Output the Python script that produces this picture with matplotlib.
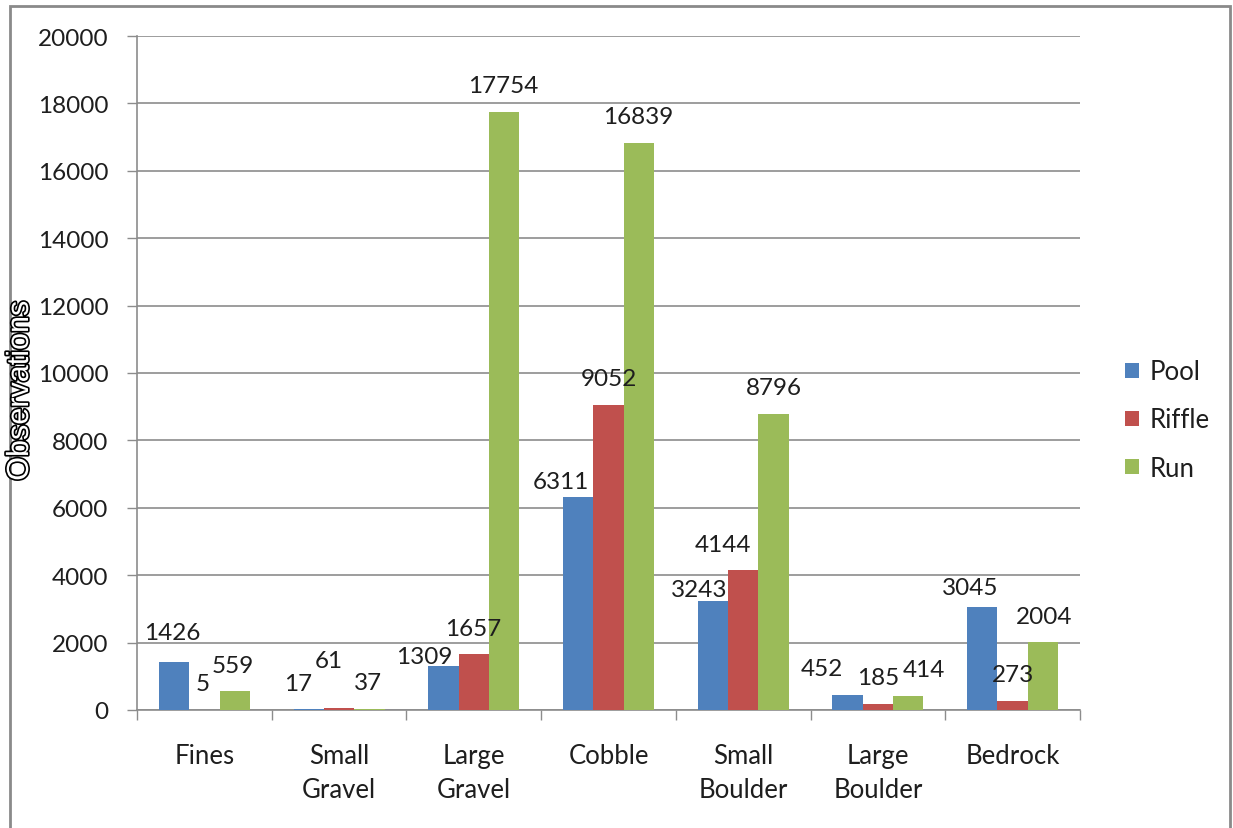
import matplotlib
matplotlib.use("Agg")
import matplotlib.pyplot as plt
import matplotlib.patheffects as pe
from matplotlib.patches import Rectangle
import numpy as np

categories = ["Fines", "Small\nGravel", "Large\nGravel", "Cobble",
              "Small\nBoulder", "Large\nBoulder", "Bedrock"]
series = ["Pool", "Riffle", "Run"]
pool = [1426, 17, 1309, 6311, 3243, 452, 3045]
riffle = [5, 61, 1657, 9052, 4144, 185, 273]
run = [559, 37, 17754, 16839, 8796, 414, 2004]
yticks = list(range(0, 20001, 2000))

colors = ["#4F81BD", "#C0504D", "#9BBB59"]

# label offsets in pixels (dx, dy) from the top centre of each bar,
# Excel nudged some of them to dodge neighbours
label_offsets = [
    [(-2, 31), (-11, 28), (-19, 11), (-17, 18), (-14, 13), (-26, 28), (-12, 22)],
    [(-2, 28), (-10, 49), (-1, 28), (0, 28), (-20, 28), (0, 28), (0, 28)],
    [(-2, 28), (-1, 28), (-1, 28), (-1, 28), (0, 28), (16, 29), (1, 28)],
]

W, H = 1233, 829
fig = plt.figure(figsize=(W / 100, H / 100), dpi=100)
ax = fig.add_axes([137 / W, 1 - 711 / H, (1080 - 137) / W, (711 - 37) / H])

font = "Lato"
fs = 17.5
fs_cat = 18.5
txt = "#1e1e1e"
grid_c = "#8c8c8c"

x = np.arange(len(categories))
width = 0.225
values = [pool, riffle, run]
for i, (name, vals) in enumerate(zip(series, values)):
    pos = x + (i - 1) * width
    ax.bar(pos, vals, width, color=colors[i], label=name, zorder=3)
    for j, (px, v) in enumerate(zip(pos, vals)):
        dx, dy = label_offsets[i][j]
        ax.annotate(str(v), xy=(px, v), xytext=(dx, dy), textcoords="offset pixels",
                    ha="center", va="center_baseline", fontsize=fs, family=font,
                    color=txt, zorder=4)

ax.set_xlim(-0.5, len(categories) - 0.5)
ax.set_ylim(0, 20000)
ax.set_yticks(yticks)
ax.set_yticklabels([str(t) for t in yticks], fontsize=fs, family=font, color=txt)
ax.yaxis.grid(True, color=grid_c, linewidth=1.2, zorder=0)
ax.set_axisbelow(True)

ax.set_xticks(np.arange(-0.5, len(categories), 1.0))
ax.set_xticklabels([])
ax.set_xticks(x, minor=True)
ax.set_xticklabels(categories, minor=True, fontsize=fs_cat, family=font, color=txt,
                   linespacing=1.45)
ax.tick_params(axis="x", which="major", length=7.5, width=1, color=grid_c, direction="out")
ax.tick_params(axis="x", which="minor", length=0, pad=24)
ax.tick_params(axis="y", length=7.5, width=1, color=grid_c, direction="out", pad=13)

for s in ["top", "right"]:
    ax.spines[s].set_visible(False)
for s in ["left", "bottom"]:
    ax.spines[s].set_color(grid_c)
    ax.spines[s].set_linewidth(1.2)

leg = fig.legend(loc="center left", bbox_to_anchor=(1125 / W, 1 - 421 / H),
                 frameon=False, prop={"family": font, "size": fs_cat},
                 handlelength=0.55, handleheight=0.55, handletextpad=0.4,
                 labelspacing=0.9, borderpad=0, borderaxespad=0)
for t in leg.get_texts():
    t.set_color(txt)

ylab = fig.text(20 / W, 1 - 392 / H, "Observations", rotation=90, ha="center",
                va="center", fontsize=22, family="Liberation Sans", color="white")
ylab.set_path_effects([pe.withStroke(linewidth=2.4, foreground="black")])

fig.patches.append(Rectangle((10 / W, -0.1), (1230 - 10) / W, 1.1 - 7 / H,
                             transform=fig.transFigure, fill=False,
                             edgecolor="#8a8a8a", linewidth=2))

fig.savefig("out.png", dpi=100)
